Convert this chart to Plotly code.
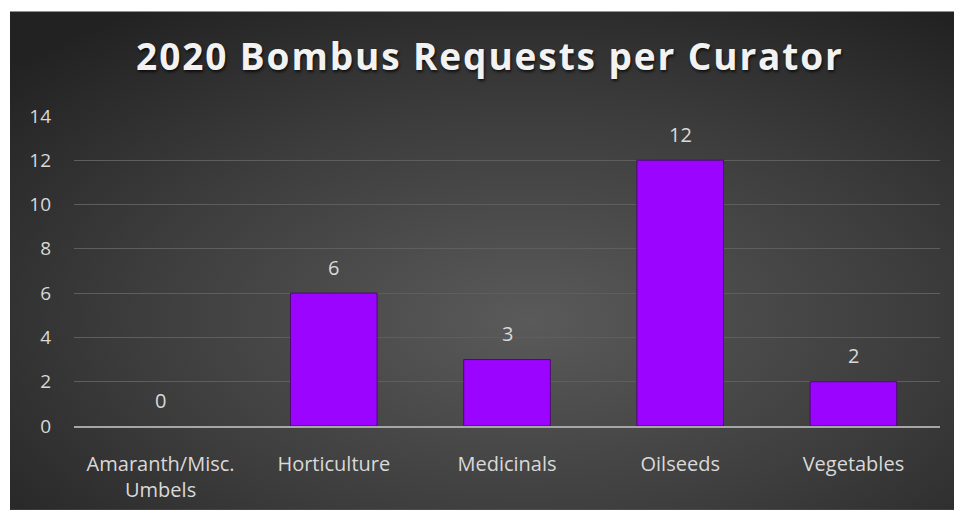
import plotly.graph_objects as go
import base64

categories = ["Amaranth/Misc.<br>Umbels", "Horticulture", "Medicinals", "Oilseeds", "Vegetables"]
requests = [0, 6, 3, 12, 2]
y_ticks = [0, 2, 4, 6, 8, 10, 12, 14]

W, H = 954, 515
ml, mr, mt, mb = 74, 14, 115, 85
pw, ph = W - ml - mr, H - mt - mb

svg = (
    '<svg xmlns="http://www.w3.org/2000/svg" width="944" height="503">'
    '<defs><radialGradient id="g" cx="0.55" cy="0.62" r="0.75">'
    '<stop offset="0" stop-color="#5a5a5a"/>'
    '<stop offset="0.55" stop-color="#3d3d3d"/>'
    '<stop offset="1" stop-color="#222222"/>'
    '</radialGradient></defs>'
    '<rect width="944" height="503" fill="url(#g)"/></svg>'
)
src = "data:image/svg+xml;base64," + base64.b64encode(svg.encode()).decode()

fig = go.Figure()
fig.add_trace(go.Bar(
    x=categories, y=requests,
    marker=dict(color="#9b05ff", line=dict(color="#4a0a70", width=[0 if v == 0 else 1 for v in requests])),
    width=0.5,
    hoverinfo="x+y",
))

for c, v in zip(categories, requests):
    fig.add_annotation(x=c, y=v, text=str(v), showarrow=False, yshift=26,
                       font=dict(family="Open Sans", size=20, color="#d9d9d9"))

fig.add_layout_image(dict(
    source=src, xref="paper", yref="paper",
    x=(10 - ml) / pw, y=(H - mb - 10) / ph,
    sizex=944 / pw, sizey=505 / ph,
    xanchor="left", yanchor="top", sizing="stretch", layer="below",
))

fig.update_layout(
    width=W, height=H,
    margin=dict(l=ml, r=mr, t=mt, b=mb),
    paper_bgcolor="white",
    plot_bgcolor="rgba(0,0,0,0)",
    showlegend=False,
    title=dict(text="<b>2020 Bombus Requests per Curator</b>",
               x=0.5136, xanchor="center", xref="container",
               y=1 - 57 / H, yanchor="middle", yref="container",
               font=dict(family="Open Sans", size=37, color="#f2f2f2",
                         shadow="1px 2px 3px rgba(0,0,0,0.7)")),
    xaxis=dict(showgrid=False, showline=True, linecolor="#a6a6a6", linewidth=2,
               ticks="", tickfont=dict(family="Open Sans", size=20, color="#d9d9d9"),
               ticklabelstandoff=19),
    yaxis=dict(range=[0, 14.04], tickvals=y_ticks, showgrid=True, gridcolor="#5e5e5e",
               gridwidth=1, zeroline=False, showline=False, ticks="",
               tickfont=dict(family="Open Sans", size=19, color="#d9d9d9"),
               ticklabelstandoff=22),
)

post = (
    "document.querySelectorAll('.gtitle').forEach(function(e){"
    "e.style.letterSpacing='1.9px';});"
)
fig.write_html("out.html", post_script=post)
